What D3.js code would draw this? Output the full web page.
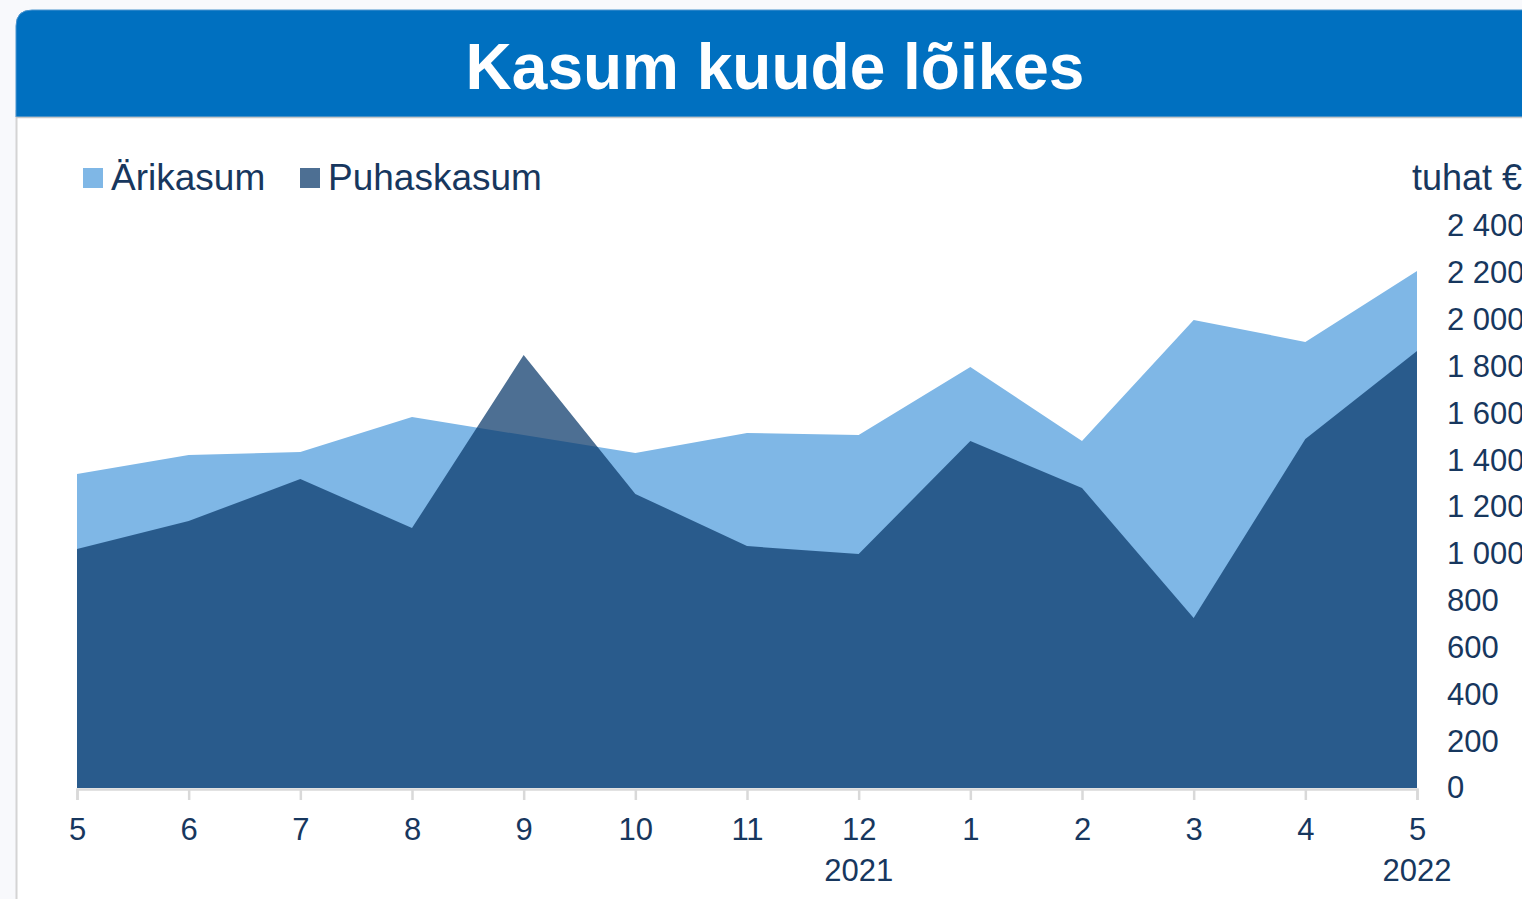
<!DOCTYPE html>
<html>
<head>
<meta charset="utf-8">
<script src="https://cdn.jsdelivr.net/npm/d3@7"></script>
<style>
    body { margin: 0; background: #f8f9fc; overflow: hidden; }
    text { font-family: "Liberation Sans", Arial, sans-serif; }
</style>
</head>
<body>
<div id="chart"></div>
<script>
// month labels along the bottom, years under the first month of each year shown
const months = ["5", "6", "7", "8", "9", "10", "11", "12", "1", "2", "3", "4", "5"];
const years = ["", "", "", "", "", "", "", "2021", "", "", "", "", "2022"];
// tuhat € (thousand euro)
const arikasum = [1341, 1422, 1435, 1584, 1507, 1431, 1516, 1507, 1798, 1482, 1999, 1905, 2208];
const puhaskasum = [1021, 1140, 1320, 1110, 1849, 1256, 1033, 999, 1482, 1281, 726, 1490, 1866];
const yTicks = [0, 200, 400, 600, 800, 1000, 1200, 1400, 1600, 1800, 2000, 2200, 2400];
const seriesNames = ["Ärikasum", "Puhaskasum"];

const width = 1522, height = 899;
const textColor = "#17375e";

const svg = d3.select("#chart")
    .append("svg")
    .attr("width", width)
    .attr("height", height);

svg.append("rect")
    .attr("width", width)
    .attr("height", height)
    .attr("fill", "#f8f9fc");

// card body
svg.append("rect")
    .attr("x", 16)
    .attr("y", 110)
    .attr("width", width)
    .attr("height", height)
    .attr("fill", "#ffffff");
svg.append("line")
    .attr("x1", 16.5).attr("x2", 16.5)
    .attr("y1", 110).attr("y2", height)
    .attr("stroke", "#d4d4d4")
    .attr("stroke-width", 2);

// title bar with rounded top left corner
const r = 16, bx = 16, by = 10, bh = 107;
svg.append("path")
    .attr("d", `M${bx},${by + bh} V${by + r} Q${bx},${by} ${bx + r},${by} H${width + 10} V${by + bh} Z`)
    .attr("fill", "#0070c0")
    .attr("stroke", "#4a94cf")
    .attr("stroke-width", 1);
svg.append("line")
    .attr("x1", bx).attr("x2", width)
    .attr("y1", by + bh + 0.5).attr("y2", by + bh + 0.5)
    .attr("stroke", "#c8c8c8")
    .attr("stroke-width", 1.5);

svg.append("text")
    .attr("x", 775)
    .attr("y", 89)
    .attr("text-anchor", "middle")
    .attr("fill", "#ffffff")
    .style("font-size", "64px")
    .style("font-weight", "bold")
    .text("Kasum kuude lõikes");

// scales
const x = d3.scaleLinear()
    .domain([0, months.length - 1])
    .range([77, 1417]);

const y = d3.scaleLinear()
    .domain([0, 2400])
    .range([788, 226]);

// areas
const area = d3.area()
    .x((d, i) => x(i))
    .y0(y(0))
    .y1(d => y(d));

svg.append("path")
    .datum(arikasum)
    .attr("fill", "#7fb7e6")
    .attr("d", area);

svg.append("path")
    .datum(puhaskasum)
    .attr("fill", "#08376a")
    .attr("fill-opacity", 0.72)
    .attr("d", area);

// x axis
const xAxis = svg.append("g")
    .attr("transform", `translate(0, ${y(0) + 1})`)
    .call(d3.axisBottom(x)
        .tickValues(d3.range(months.length))
        .tickFormat(i => months[i])
        .tickSizeOuter(0)
        .tickSize(11)
        .tickPadding(18));
xAxis.select(".domain").attr("stroke", "#d9d9d9").attr("stroke-width", 2.5);
xAxis.selectAll(".tick line").attr("stroke", "#d9d9d9").attr("stroke-width", 2.5);
xAxis.selectAll(".tick text")
    .attr("fill", textColor)
    .style("font-size", "31px")
    .style("font-family", "'Liberation Sans', Arial, sans-serif");

svg.append("g")
    .selectAll("text")
    .data(years)
    .join("text")
    .attr("x", (d, i) => x(i))
    .attr("y", 881)
    .attr("text-anchor", "middle")
    .attr("fill", textColor)
    .style("font-size", "31px")
    .text(d => d);

// y axis on the right, labels only
const fmt = d3.formatLocale({decimal: ",", thousands: " ", grouping: [3], currency: ["", " €"]}).format(",");
const yAxis = svg.append("g")
    .attr("transform", "translate(1447, 0)")
    .call(d3.axisRight(y)
        .tickValues(yTicks)
        .tickFormat(fmt)
        .tickSize(0)
        .tickPadding(0));
yAxis.select(".domain").remove();
yAxis.selectAll(".tick text")
    .attr("fill", textColor)
    .attr("text-anchor", "start")
    .style("font-size", "31px")
    .style("font-family", "'Liberation Sans', Arial, sans-serif");

svg.append("text")
    .attr("x", 1412)
    .attr("y", 190)
    .attr("fill", textColor)
    .style("font-size", "36px")
    .text("tuhat €");

// legend
const legendColors = ["#7fb7e6", "#4d6f93"];
const legendX = [83, 300];
const legend = svg.append("g")
    .selectAll("g")
    .data(seriesNames)
    .join("g")
    .attr("transform", (d, i) => `translate(${legendX[i]}, 168)`);
legend.append("rect")
    .attr("width", 20)
    .attr("height", 20)
    .attr("fill", (d, i) => legendColors[i]);
legend.append("text")
    .attr("x", 28)
    .attr("y", 22)
    .attr("fill", textColor)
    .style("font-size", "37px")
    .text(d => d);
</script>
</body>
</html>
